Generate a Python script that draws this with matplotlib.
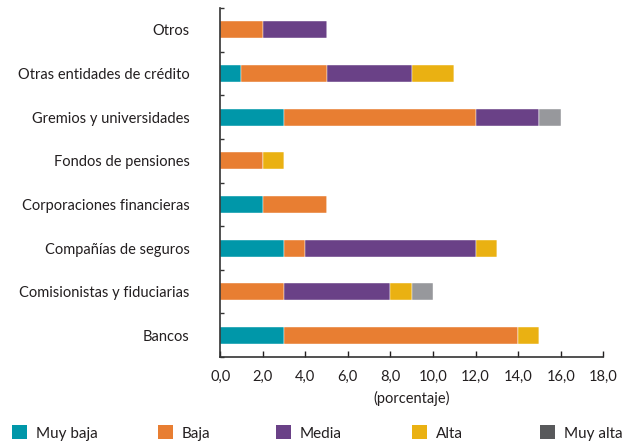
import matplotlib.pyplot as plt
from matplotlib.patches import Patch
from matplotlib.ticker import FuncFormatter

# Categorias (de abajo hacia arriba) y valores por nivel
categorias = ['Bancos', 'Comisionistas y fiduciarias', 'Compañías de seguros',
              'Corporaciones financieras', 'Fondos de pensiones',
              'Gremios y universidades', 'Otras entidades de crédito', 'Otros']
muy_baja = [3, 0, 3, 2, 0, 3, 1, 0]
baja = [11, 3, 1, 3, 2, 9, 4, 2]
media = [0, 5, 8, 0, 0, 3, 4, 3]
alta = [1, 1, 1, 0, 1, 0, 2, 0]
muy_alta = [0, 1, 0, 0, 0, 1, 0, 0]

niveles = ['Muy baja', 'Baja', 'Media', 'Alta', 'Muy alta']
series = [muy_baja, baja, media, alta, muy_alta]
colores = ['#0097A9', '#E87E32', '#6A4187', '#EAB112', '#97989C']
colores_leyenda = ['#0097A9', '#E87E32', '#6A4187', '#EAB112', '#58595B']

plt.rcParams['font.family'] = ['Lato', 'DejaVu Sans']

fig = plt.figure(figsize=(6.29, 4.42), dpi=100)
ax = fig.add_axes([0.35, 0.192, 0.609, 0.79])

y = list(range(len(categorias)))
izq = [0] * len(categorias)
for vals, col in zip(series, colores):
    ax.barh(y, vals, left=izq, height=0.39, color=col, edgecolor='white', linewidth=0.3)
    izq = [a + b for a, b in zip(izq, vals)]

ax.set_xlim(0, 18)
ax.set_ylim(-0.5, 7.5)
ax.set_xticks(range(0, 19, 2))
ax.xaxis.set_major_formatter(FuncFormatter(lambda v, p: f'{v:.1f}'.replace('.', ',')))
ax.set_yticks(y)
ax.set_yticklabels(categorias)
ax.set_yticks([i - 0.5 for i in range(len(categorias) + 1)], minor=True)
ax.tick_params(axis='y', which='major', length=0, pad=22, labelsize=10.5, colors='#231F20')
ax.tick_params(axis='y', which='minor', direction='in', length=3, width=1, color='#333333')
ax.tick_params(axis='x', direction='in', length=4, width=1, labelsize=10.5, colors='#231F20', pad=9)
ax.set_xlabel('(porcentaje)', fontsize=10.5, color='#231F20', labelpad=5)

for s in ['top', 'right']:
    ax.spines[s].set_visible(False)
for s in ['left', 'bottom']:
    ax.spines[s].set_color('#333333')
    ax.spines[s].set_linewidth(1.2)

# Leyenda: cada elemento en su posicion (px desde la izquierda)
pos_leyenda = [12, 158, 276, 412, 540]
for nombre, col, px in zip(niveles, colores_leyenda, pos_leyenda):
    leg = fig.legend([Patch(facecolor=col, edgecolor='none')], [nombre],
                     loc='center left', bbox_to_anchor=(px / 629, 1 - 433 / 442),
                     frameon=False, fontsize=11, handlelength=1.0, handleheight=1.0,
                     handletextpad=0.55, borderaxespad=0, borderpad=0)
    for t in leg.get_texts():
        t.set_color('#231F20')

plt.savefig('out.png', dpi=100)
